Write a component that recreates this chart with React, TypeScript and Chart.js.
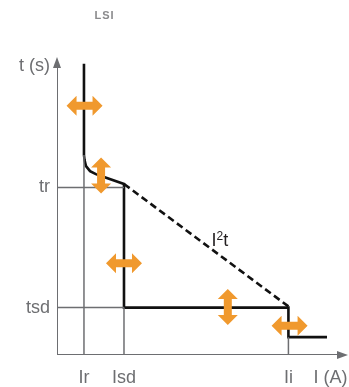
import React, { useEffect, useRef } from "react";
import { Chart, registerables } from "chart.js";

Chart.register(...registerables);

// Coordinates in abstract diagram units (0..100 on both axes)
const Ir = 9.3;
const Isd = 23.1;
const Ii = 79.8;
const tr = 56.2;
const tsd = 15.9;

const curveX = [9.3, 9.3, 9.5, 10.0, 11.4, 13.4, 16.2, 23.1, 23.1, 79.8, 79.8, 93.1];
const curveY = [97.7, 67.1, 65.4, 63.4, 61.7, 60.7, 59.7, 57.4, 15.9, 15.9, 6.0, 6.0];

const dashX = [23.1, 79.8];
const dashY = [57.4, 16.3];

const xTickLabels = ["Ir", "Isd", "Ii", "I (A)"];
const xTickValues = [Ir, Isd, Ii, 94.3];
const yTickLabels = ["tr", "tsd", "t (s)"];
const yTickValues = [tr, tsd, 97.0];

// orange adjustment arrows: center x, center y, orientation
const arrowX = [9.5, 15.2, 23.1, 58.9, 80.2];
const arrowY = [83.6, 60.2, 30.8, 16.1, 9.8];
const arrowDir = ["h", "v", "h", "v", "h"];

const GRAY = "#6d6e71";
const ORANGE = "#F0992E";
const FONT = "'Liberation Sans', Arial, sans-serif";

const pts = (xs: number[], ys: number[]) => xs.map((x, i) => ({ x, y: ys[i] }));

const lineDs = (data: any[], color: string, width: number, dash: number[] = []) => ({
  data,
  borderColor: color,
  borderWidth: width,
  borderDash: dash,
  pointRadius: 0,
  fill: false,
  tension: 0,
  borderJoinStyle: "miter" as const,
  borderCapStyle: "butt" as const,
});

const overlayPlugin = {
  id: "overlay",
  afterDatasetsDraw(chart: any) {
    const ctx = chart.ctx;
    const xs = chart.scales.x;
    const ys = chart.scales.y;
    const px = (v: number) => xs.getPixelForValue(v);
    const py = (v: number) => ys.getPixelForValue(v);
    ctx.save();
    // axis arrowheads
    ctx.fillStyle = GRAY;
    const ox = px(0);
    const oy = py(0);
    const topY = py(100);
    ctx.beginPath();
    ctx.moveTo(ox, topY);
    ctx.lineTo(ox - 4, topY + 11);
    ctx.lineTo(ox + 4, topY + 11);
    ctx.closePath();
    ctx.fill();
    const rightX = px(100);
    ctx.beginPath();
    ctx.moveTo(rightX + 1, oy);
    ctx.lineTo(rightX - 10, oy - 4);
    ctx.lineTo(rightX - 10, oy + 4);
    ctx.closePath();
    ctx.fill();

    // orange double arrows
    ctx.fillStyle = ORANGE;
    arrowX.forEach((ax, i) => {
      const cx = px(ax);
      const cy = py(arrowY[i]);
      const half = 18;
      const head = 10;
      const hw = 10;
      const sw = 4;
      ctx.save();
      ctx.translate(cx, cy);
      if (arrowDir[i] === "v") ctx.rotate(Math.PI / 2);
      ctx.beginPath();
      ctx.moveTo(-half, 0);
      ctx.lineTo(-half + head, -hw);
      ctx.lineTo(-half + head, -sw);
      ctx.lineTo(half - head, -sw);
      ctx.lineTo(half - head, -hw);
      ctx.lineTo(half, 0);
      ctx.lineTo(half - head, hw);
      ctx.lineTo(half - head, sw);
      ctx.lineTo(-half + head, sw);
      ctx.lineTo(-half + head, hw);
      ctx.closePath();
      ctx.fill();
      ctx.restore();
    });

    // labels
    ctx.fillStyle = GRAY;
    ctx.font = `18px ${FONT}`;
    ctx.textBaseline = "middle";
    ctx.textAlign = "center";
    xTickLabels.forEach((t, i) => {
      ctx.fillText(t, px(xTickValues[i]), oy + 23);
    });
    ctx.textAlign = "right";
    yTickLabels.forEach((t, i) => {
      ctx.fillText(t, ox - 7, py(yTickValues[i]));
    });

    // I²t label
    ctx.fillStyle = "#231f20";
    ctx.textAlign = "left";
    const lx = px(53.3);
    const ly = py(38.4);
    ctx.font = `18px ${FONT}`;
    ctx.fillText("I", lx, ly);
    const wI = ctx.measureText("I").width;
    ctx.font = `12px ${FONT}`;
    ctx.fillText("2", lx + wI, ly - 4);
    const w2 = ctx.measureText("2").width;
    ctx.font = `18px ${FONT}`;
    ctx.fillText("t", lx + wI + w2, ly);

    // title
    ctx.fillStyle = "#8a8a8c";
    ctx.font = `bold 11px ${FONT}`;
    ctx.textAlign = "center";
    (ctx as any).letterSpacing = "1px";
    ctx.fillText("LSI", 104.5, 15.5);
    ctx.restore();
  },
};

export default function App() {
  const ref = useRef<HTMLCanvasElement>(null);
  useEffect(() => {
    document.body.style.margin = "0";
    if (!ref.current) return;
    const chart = new Chart(ref.current, {
      type: "line",
      data: {
        datasets: [
          lineDs(pts([0, 0], [0, 98]), GRAY, 2),
          lineDs(pts([0, 98], [0, 0]), GRAY, 2),
          lineDs(pts([Ir, Ir], [0, 67.1]), GRAY, 1.5),
          lineDs(pts([Isd, Isd], [0, tsd]), GRAY, 1.5),
          lineDs(pts([Ii, Ii], [0, 6.0]), GRAY, 1.5),
          lineDs(pts([0, Isd], [tr, tr]), GRAY, 1.5),
          lineDs(pts([0, Isd], [tsd, tsd]), GRAY, 1.5),
          lineDs(pts(dashX, dashY), "#111111", 2.6, [7, 4]),
          lineDs(pts(curveX, curveY), "#111111", 2.6),
        ],
      },
      options: {
        animation: false,
        responsive: false,
        maintainAspectRatio: false,
        layout: { padding: { left: 57, right: 2, top: 57, bottom: 32 } },
        scales: {
          x: { type: "linear", min: 0, max: 100, display: false },
          y: { type: "linear", min: 0, max: 100, display: false },
        },
        plugins: { legend: { display: false }, tooltip: { enabled: false } },
        elements: { line: { borderJoinStyle: "miter" } },
      },
      plugins: [overlayPlugin],
    });
    return () => chart.destroy();
  }, []);
  return (
    <div style={{ position: "absolute", left: 0, top: 0, width: 349, height: 387, background: "#fff" }}>
      <canvas ref={ref} width={349} height={387} style={{ width: 349, height: 387 }} />
    </div>
  );
}
